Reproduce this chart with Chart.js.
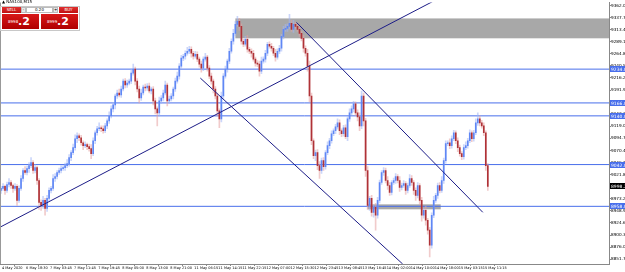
<!DOCTYPE html>
<html><head><meta charset="utf-8">
<script src="https://cdn.jsdelivr.net/npm/chart.js@4/dist/chart.umd.min.js"></script>
<style>
html,body{margin:0;padding:0;background:#fff;}
#wrap{position:relative;width:625px;height:272px;overflow:hidden;}
canvas{display:block;}
.w{position:absolute;font-family:'DejaVu Sans',sans-serif;box-sizing:border-box;line-height:1;}
.btn{background:linear-gradient(#e03030,#c01010);color:#fff;font-size:4px;text-align:center;padding-top:1px;}
.big{background:linear-gradient(#d81818,#b00000);color:#fff;}
</style></head><body>
<div id="wrap"><canvas id="c" width="625" height="272"></canvas>
<div class="w" style="left:2px;top:0px;font-size:4px;color:#000;">▲ NAS100,M15</div>
<div class="w" style="left:0px;top:6px;width:80px;height:25px;background:#fff;border:1px solid #c8c8c8;"></div>
<div class="w btn" style="left:2px;top:7px;width:19px;height:6px;">SELL</div>
<div class="w" style="left:21px;top:7px;width:5px;height:6px;background:#e8e8e8;border:1px solid #bbb;font-size:4px;text-align:center;">-</div>
<div class="w" style="left:26px;top:7px;width:27px;height:6px;background:#fff;border:1px solid #bbb;font-size:4px;text-align:center;">0.20</div>
<div class="w" style="left:53px;top:7px;width:5px;height:6px;background:#e8e8e8;border:1px solid #bbb;font-size:4px;text-align:center;">+</div>
<div class="w btn" style="left:59px;top:7px;width:19px;height:6px;">BUY</div>
<div class="w big" style="left:2px;top:14px;width:37px;height:15px;"><span style="position:absolute;left:6px;top:6px;font-size:4px;">8998</span><span style="position:absolute;left:16px;top:2px;font-size:11px;font-weight:bold;">.2</span></div>
<div class="w big" style="left:41px;top:14px;width:37px;height:15px;"><span style="position:absolute;left:6px;top:6px;font-size:4px;">8999</span><span style="position:absolute;left:16px;top:2px;font-size:11px;font-weight:bold;">.2</span></div>
</div>
<script>
const timeLabels = ["4 May 2020","6 May 18:30","7 May 03:45","7 May 11:45","7 May 19:45","8 May 05:00","8 May 13:00","8 May 21:00","11 May 06:15","11 May 14:15","11 May 22:15","12 May 07:00","12 May 15:30","12 May 23:45","13 May 08:45","13 May 16:45","14 May 02:00","14 May 10:00","14 May 18:00","15 May 03:15","15 May 11:15"];
const priceTicks = [9362.0,9337.7,9313.4,9289.1,9264.8,9240.5,9216.2,9191.9,9167.6,9143.3,9119.0,9094.7,9070.4,9046.1,9021.8,8997.5,8973.2,8948.9,8924.6,8900.3,8876.0,8851.7];
const firstOpen = 8990;
const closes = [8994,8998,8990,9002,9006,9000,8994,8998,8970,8994,
9014,9030,9026,9034,9040,9046,9030,9036,9010,8966,
8960,8970,8954,8974,8990,8994,9014,9018,9026,9030,
9034,9036,9040,9044,9056,9066,9076,9094,9100,9096,
9086,9080,9082,9078,9074,9064,9090,9106,9114,9116,
9114,9110,9120,9130,9140,9154,9162,9180,9186,9182,
9194,9210,9202,9206,9210,9226,9234,9210,9194,9176,
9186,9198,9196,9200,9190,9194,9170,9154,9146,9170,
9176,9186,9202,9170,9174,9180,9194,9210,9220,9240,
9256,9260,9266,9270,9274,9266,9260,9264,9254,9244,
9236,9254,9258,9236,9220,9210,9194,9180,9150,9134,
9180,9220,9234,9250,9270,9290,9306,9324,9330,9320,
9290,9284,9294,9274,9270,9266,9254,9246,9244,9230,
9250,9254,9266,9284,9280,9276,9266,9258,9270,9276,
9300,9314,9316,9320,9326,9314,9324,9320,9314,9306,
9296,9276,9266,9240,9180,9090,9060,9066,9040,9030,
9050,9038,9066,9080,9090,9104,9110,9118,9126,9110,
9104,9116,9098,9134,9146,9154,9164,9146,9138,9120,
9180,9130,9030,8960,8974,8946,8956,8940,8970,9006,
9026,9030,9010,9000,8986,9006,9010,9018,9010,8996,
9000,9004,8990,9000,9014,9006,8990,8980,9000,8970,
8940,8950,8930,8910,8880,8940,8970,8980,9000,8990,
9010,9050,9084,9086,9080,9094,9106,9090,9076,9064,
9058,9076,9080,9090,9106,9094,9106,9126,9134,9126,
9120,9106,9040,8998.2];
const upperWick = [4,6,3,5,8,4,3,6,4,5,
6,4,8,5,6,10,4,6,3,4,
5,8,4,6,5,4,8,6,4,5,
6,4,5,8,6,4,7,8,6,4,
5,4,6,3,5,8,6,4,5,10,
4,6,5,4,8,6,5,4,6,8,
6,4,5,6,4,8,10,4,5,6,
8,4,6,5,6,4,5,6,4,8,
5,6,8,4,6,5,4,6,8,5,
6,4,5,8,6,5,4,6,5,4,
6,5,8,4,5,6,4,5,6,4,
8,5,6,4,6,5,8,6,10,6,
5,4,6,8,4,5,6,4,5,6,
8,5,6,4,5,6,4,8,5,6,
4,6,8,5,18,6,8,4,5,6,
4,6,5,8,10,6,4,5,6,8,
5,6,4,8,5,6,4,5,8,6,
4,5,6,4,8,6,5,4,6,8,
10,6,5,8,4,6,5,8,6,5,
4,6,5,8,6,4,5,6,4,8,
5,6,4,5,8,6,4,5,6,4,
6,5,8,4,6,5,8,4,5,6,
8,5,6,4,8,6,5,4,6,5,
4,6,8,5,6,4,5,8,12,6,
5,6,4,4];
const lowerWick = [6,4,8,4,5,6,8,4,10,4,
4,6,4,5,8,4,6,5,8,14,
10,6,14,6,4,5,4,6,5,4,
5,4,6,4,5,6,4,5,8,6,
5,8,4,6,5,10,4,6,5,4,
6,5,4,6,5,4,6,8,5,4,
5,4,6,5,4,5,4,8,6,10,
5,4,6,5,4,6,8,10,26,6,
5,6,4,10,5,4,6,5,4,6,
4,5,6,4,5,8,6,4,5,6,
8,5,4,6,5,6,8,6,10,18,
6,5,4,6,5,4,6,5,4,8,
6,5,4,6,5,8,4,6,5,10,
5,4,6,5,4,6,5,8,4,5,
6,5,4,6,5,4,6,5,4,6,
5,8,6,10,12,8,6,10,8,16,
6,8,5,4,6,5,4,6,5,8,
6,5,4,8,5,4,6,5,8,10,
6,10,12,8,10,8,10,30,6,5,
4,6,5,8,6,5,4,6,5,8,
5,4,8,5,4,6,8,10,5,8,
12,6,10,8,24,6,5,4,6,5,
4,6,5,4,6,5,4,6,8,5,
6,5,4,5,4,6,5,4,5,6,
5,6,10,8];
const levelLines = [9234.0, 9166.0, 9140.0, 9042.0, 8958.0];
const trendRising = [[0, 8916], [216, 9370]];
const trendLower = [[100, 9216], [201, 8842]];
const trendUpper = [[148, 9328], [241, 8946]];
const zones = [[117.5, 304, 9336, 9296], [183.5, 220, 8962, 8952]];
const bidPrice = 8998.2;

const X_MAX = 304, Y_MIN = 8842, Y_MAX = 9368;
const opens = closes.map((c, i) => i === 0 ? firstOpen : closes[i - 1]);
const bodies = closes.map((c, i) => ({x: i + 0.5, y: [opens[i], c]}));
const wicks = closes.map((c, i) => ({x: i + 0.5, y: [Math.min(opens[i], c) - lowerWick[i], Math.max(opens[i], c) + upperWick[i]]}));
const up = i => closes[i] >= opens[i];
const LINE_BLUE = 'rgb(72,110,235)';
const NAVY = 'rgb(28,28,135)';
const toPts = a => a.map(p => ({x: p[0], y: p[1]}));

const datasets = [];
[trendRising, trendLower, trendUpper].forEach(t => datasets.push({type: 'line', data: toPts(t), borderColor: NAVY, borderWidth: 1, pointRadius: 0, order: 0}));
levelLines.forEach(v => datasets.push({type: 'line', data: [{x: 0, y: v}, {x: X_MAX, y: v}], borderColor: LINE_BLUE, borderWidth: 1, pointRadius: 0, order: 3}));
datasets.push({type: 'bar', data: bodies, grouped: false, barThickness: 1, order: 1,
  backgroundColor: c => up(c.dataIndex) ? 'rgb(95,135,245)' : 'rgb(175,50,55)'});
datasets.push({type: 'bar', data: wicks, grouped: false, barThickness: 1, order: 2,
  backgroundColor: c => up(c.dataIndex) ? 'rgba(160,180,245,0.55)' : 'rgba(230,160,160,0.55)'});

const zonePlugin = {
  id: 'zones',
  beforeDatasetsDraw(chart) {
    const {ctx, scales: {x, y}, chartArea: a} = chart;
    ctx.save();
    ctx.beginPath(); ctx.rect(a.left, a.top, a.right - a.left, a.bottom - a.top); ctx.clip();
    zones.forEach(z => {
      const x0 = x.getPixelForValue(z[0]), x1 = x.getPixelForValue(z[1]);
      const y0 = y.getPixelForValue(z[2]), y1 = y.getPixelForValue(z[3]);
      ctx.fillStyle = '#a8a8a8';
      ctx.fillRect(x0, y0, x1 - x0, y1 - y0);
    });
    ctx.restore();
  },
  afterDraw(chart) {
    const {ctx, scales: {y}, chartArea: a} = chart;
    ctx.save();
    ctx.font = '4.5px "DejaVu Sans"';
    ctx.textBaseline = 'middle';
    ctx.textAlign = 'left';
    const draw = (v, bg) => {
      const py = Math.round(y.getPixelForValue(v));
      ctx.fillStyle = bg;
      ctx.fillRect(a.right + 1, py - 3, 15, 6);
      ctx.fillStyle = '#fff';
      ctx.fillText(v.toFixed(1), a.right + 2, py + 0.5);
    };
    levelLines.forEach(v => draw(v, LINE_BLUE));
    draw(bidPrice, '#000');
    ctx.strokeStyle = '#999'; ctx.lineWidth = 1;
    ctx.beginPath(); ctx.moveTo(a.left + 0.5, a.top); ctx.lineTo(a.left + 0.5, a.bottom); ctx.stroke();
    ctx.restore();
  }
};

new Chart(document.getElementById('c'), {
  type: 'bar',
  data: {datasets},
  options: {
    responsive: false, animation: false,
    layout: {padding: {top: 1, left: 0, right: 0, bottom: 0}},
    plugins: {legend: {display: false}, tooltip: {enabled: false}},
    scales: {
      x: {type: 'linear', min: 0, max: X_MAX, offset: false,
        grid: {display: true, drawOnChartArea: false, tickLength: 2, color: '#888'},
        border: {color: '#888'},
        afterBuildTicks: s => { s.ticks = timeLabels.map((_, k) => ({value: 12 * k + 1})); },
        afterFit: s => { s.height = 8; },
        ticks: {autoSkip: false, maxRotation: 0, minRotation: 0, align: 'start', padding: 0, color: '#000',
          font: {size: 3.5, family: 'DejaVu Sans'}, callback: (v, i) => timeLabels[i]}
      },
      y: {position: 'right', min: Y_MIN, max: Y_MAX,
        grid: {display: true, drawOnChartArea: false, tickLength: 2, color: '#888'},
        border: {color: '#888'},
        afterBuildTicks: s => { s.ticks = priceTicks.map(v => ({value: v})); },
        afterFit: s => { s.width = 16; },
        ticks: {autoSkip: false, padding: 0, color: '#000', font: {size: 4.2, family: 'DejaVu Sans'},
          callback: v => Number(v).toFixed(1)}
      }
    }
  },
  plugins: [zonePlugin]
});
</script>
</body></html>
